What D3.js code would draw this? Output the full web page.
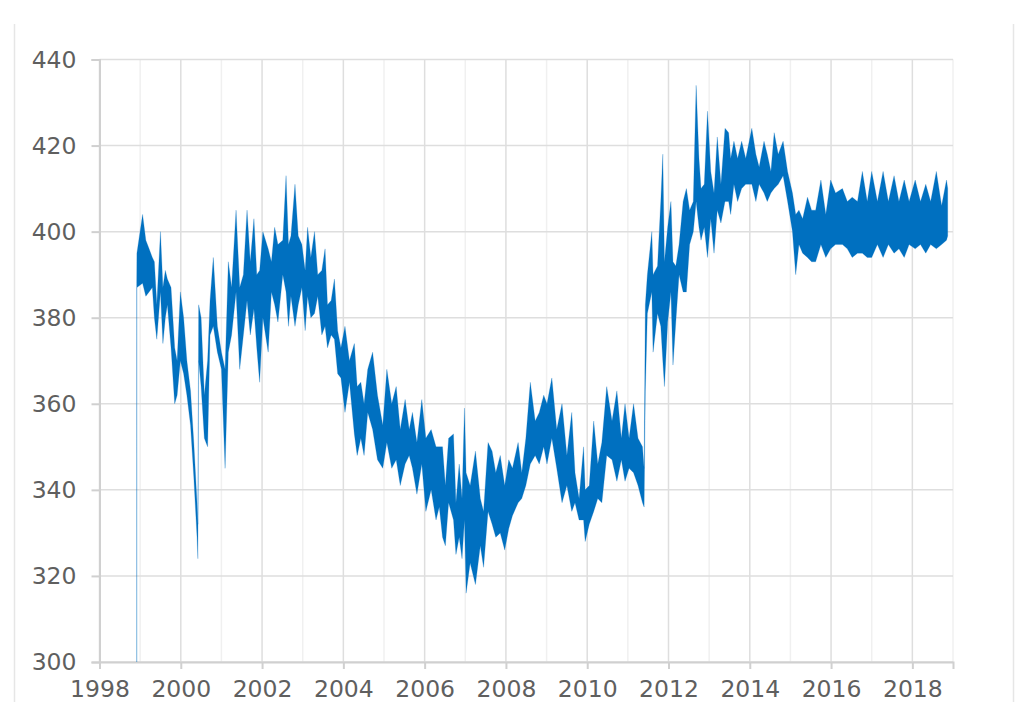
<!DOCTYPE html>
<html>
<head>
<meta charset="utf-8">
<script src="https://cdn.jsdelivr.net/npm/d3@7"></script>
<style>
  html, body { margin: 0; padding: 0; background: #fff; }
  svg { display: block; }
</style>
</head>
<body>
<div id="chart"></div>
<script>
// readings: date in decimal years, low / high of the daily band
var dates = [
  1998.915, 1998.92, 1999.06, 1999.14, 1999.22, 1999.30, 1999.35, 1999.41, 1999.50, 1999.56,
  1999.62, 1999.67, 1999.76, 1999.85, 1999.91, 1999.99, 2000.07, 2000.15, 2000.24, 2000.32,
  2000.40, 2000.42, 2000.44, 2000.50, 2000.58, 2000.66, 2000.72, 2000.80, 2000.90, 2001.00,
  2001.09, 2001.17, 2001.25, 2001.36, 2001.45, 2001.54, 2001.63, 2001.71, 2001.80, 2001.87,
  2001.94, 2002.02, 2002.15, 2002.23, 2002.31, 2002.39, 2002.51, 2002.59, 2002.65, 2002.71,
  2002.81, 2002.89, 2002.98, 2003.06, 2003.12, 2003.20, 2003.29, 2003.37, 2003.47, 2003.55,
  2003.61, 2003.70, 2003.78, 2003.86, 2003.94, 2004.04, 2004.15, 2004.27, 2004.34, 2004.43,
  2004.51, 2004.60, 2004.72, 2004.84, 2004.97, 2005.07, 2005.19, 2005.30, 2005.40, 2005.52,
  2005.62, 2005.70, 2005.81, 2005.93, 2006.03, 2006.16, 2006.28, 2006.36, 2006.44, 2006.51,
  2006.59, 2006.71, 2006.77, 2006.85, 2006.92, 2006.98, 2007.02, 2007.12, 2007.25, 2007.37,
  2007.45, 2007.56, 2007.66, 2007.75, 2007.86, 2007.97, 2008.07, 2008.16, 2008.30, 2008.39,
  2008.49, 2008.60, 2008.72, 2008.82, 2008.93, 2009.01, 2009.13, 2009.25, 2009.38, 2009.50,
  2009.62, 2009.70, 2009.80, 2009.91, 2009.95, 2010.05, 2010.16, 2010.26, 2010.36, 2010.48,
  2010.61, 2010.73, 2010.84, 2010.93, 2011.03, 2011.14, 2011.25, 2011.36, 2011.40, 2011.43,
  2011.48, 2011.59, 2011.62, 2011.73, 2011.81, 2011.86, 2011.90, 2011.98, 2012.06, 2012.11,
  2012.18, 2012.26, 2012.36, 2012.44, 2012.52, 2012.61, 2012.68, 2012.75, 2012.80, 2012.88,
  2012.96, 2013.04, 2013.12, 2013.20, 2013.29, 2013.39, 2013.48, 2013.53, 2013.61, 2013.70,
  2013.80, 2013.90, 2014.05, 2014.15, 2014.23, 2014.35, 2014.43, 2014.52, 2014.60, 2014.70,
  2014.82, 2014.93, 2015.05, 2015.13, 2015.21, 2015.30, 2015.42, 2015.52, 2015.62, 2015.75,
  2015.87, 2015.99, 2016.11, 2016.28, 2016.40, 2016.52, 2016.65, 2016.77, 2016.89, 2017.00,
  2017.14, 2017.28, 2017.41, 2017.55, 2017.67, 2017.80, 2017.92, 2018.07, 2018.20, 2018.33,
  2018.45, 2018.59, 2018.72, 2018.84, 2018.87
];
var lows = [
  0, 387, 388, 385, 386, 387, 380, 375, 386, 374,
  380, 383, 373, 360, 362, 370, 367, 362, 355, 343,
  329, 324, 370, 364, 352, 350, 376, 378, 372, 368,
  345, 372, 376, 386, 368, 376, 384, 376, 382, 373,
  365, 380, 372, 386, 383, 379, 390, 386, 378, 385,
  378, 383, 387, 377, 385, 380, 381, 385, 376, 378,
  373, 376, 375, 367, 366, 358, 365, 353, 348, 352,
  348, 358, 354, 347, 345, 351, 345, 347, 341, 346,
  348, 345, 339, 346, 335, 340, 333, 336, 329, 327,
  337, 333, 325, 329, 324, 333, 316, 323, 318, 327,
  322, 335, 332, 329, 330, 326, 331, 334, 337, 338,
  341, 346, 348, 346, 350, 346, 352, 345, 337, 341,
  335, 337, 333, 333, 328, 332, 335, 338, 337, 348,
  347, 342, 347, 342, 345, 344, 341, 337, 336, 363,
  381, 386, 372, 381, 378, 370, 364, 379, 386, 369,
  379, 390, 386, 386, 397, 400, 407, 401, 398, 401,
  394, 403, 395, 405, 402, 407, 407, 404, 411, 407,
  410, 411, 411, 407, 411, 409, 407, 409, 410, 411,
  413, 407, 400, 390, 397, 395, 394, 393, 393, 397,
  394, 396, 397, 397, 396, 394, 395, 395, 394, 394,
  397, 394, 397, 395, 396, 394, 397, 396, 397, 395,
  397, 396, 397, 398, 399
];
var highs = [
  388, 395, 404, 398, 396, 394, 393, 383, 400, 387,
  391, 389, 387, 373, 370, 386, 380, 370, 363, 351,
  337, 332, 383, 380, 362, 370, 384, 394, 378, 372,
  368, 393, 387, 405, 387, 390, 405, 393, 403, 390,
  391, 400, 396, 393, 401, 397, 398, 413, 397, 399,
  411, 399, 397, 391, 401, 394, 400, 390, 391, 396,
  383, 384, 389, 377, 373, 378, 370, 374, 364, 365,
  360, 368, 372, 362, 355, 368, 360, 364, 354, 361,
  354, 358, 351, 361, 352, 354, 350, 350, 350, 341,
  352, 353, 337, 346, 338, 359, 344, 341, 349, 338,
  335, 351, 349, 344, 348, 341, 347, 345, 351, 344,
  352, 365, 356, 358, 362, 360, 366, 354, 360, 348,
  358, 344, 338, 350, 340, 341, 356, 346, 351, 364,
  356, 363, 352, 360, 352, 360, 352, 350, 345, 383,
  390, 400, 390, 392, 407, 418, 393, 401, 407, 393,
  392, 397, 407, 410, 405, 407, 434, 417, 410, 411,
  428, 414, 409, 422, 411, 424, 423, 417, 421, 417,
  421, 417, 424, 418, 415, 421, 418, 414, 423, 418,
  421, 414, 409, 404, 405, 403, 408, 405, 405, 412,
  404, 412, 409, 410, 407, 408, 407, 414, 407, 414,
  407, 414, 407, 413, 407, 412, 407, 412, 407, 411,
  407, 414, 406, 412, 410
];

var yTicks = [300, 320, 340, 360, 380, 400, 420, 440];
var xLabelYears = [1998, 2000, 2002, 2004, 2006, 2008, 2010, 2012, 2014, 2016, 2018];
var xGridYears = d3.range(1998, 2020);

var width = 1033, height = 702;
var plot = {left: 99.5, right: 953, top: 59.5, bottom: 662};
var lineColor = "#0070c0";
var font = "'DejaVu Sans', Verdana, sans-serif";

var svg = d3.select("#chart").append("svg")
    .attr("width", width)
    .attr("height", height);

// frame lines at both sides
svg.append("line")
    .attr("x1", 14.5).attr("x2", 14.5).attr("y1", 24).attr("y2", height)
    .style("stroke", "#e6e6e6").style("stroke-width", 1.5);
svg.append("line")
    .attr("x1", 1013.5).attr("x2", 1013.5).attr("y1", 24).attr("y2", height)
    .style("stroke", "#e6e6e6").style("stroke-width", 1.5);

var x = d3.scaleLinear().domain([1998, 2019]).range([plot.left, plot.right]);
var y = d3.scaleLinear().domain([300, 440]).range([plot.bottom, plot.top]);

// vertical grid, lighter on odd years
svg.append("g").selectAll("line")
    .data(xGridYears)
    .join("line")
    .attr("x1", d => x(d)).attr("x2", d => x(d))
    .attr("y1", plot.top).attr("y2", plot.bottom)
    .style("stroke", d => d % 2 === 0 ? "#dedede" : "#f0f0f0")
    .style("stroke-width", 1.5);

// horizontal grid
svg.append("g").selectAll("line")
    .data(yTicks)
    .join("line")
    .attr("x1", plot.left).attr("x2", plot.right)
    .attr("y1", d => y(d)).attr("y2", d => y(d))
    .style("stroke", "#dedede")
    .style("stroke-width", 1.5);

var yAxis = svg.append("g")
    .attr("transform", `translate(${plot.left}, 0)`)
    .call(d3.axisLeft(y).tickValues(yTicks).tickSize(8).tickPadding(15));
var xAxis = svg.append("g")
    .attr("transform", `translate(0, ${plot.bottom})`)
    .call(d3.axisBottom(x).tickValues(xLabelYears).tickFormat(d3.format("d")).tickSize(7).tickPadding(11));

[yAxis, xAxis].forEach(function(ax) {
    ax.select(".domain").style("stroke", "#d0d0d0").style("stroke-width", 2);
    ax.selectAll(".tick line").style("stroke", "#d0d0d0").style("stroke-width", 2);
    ax.selectAll("text")
        .style("font-family", font)
        .style("font-size", "23.5px")
        .style("fill", "#5f5f5f");
});

// the series band
var data = dates.map((d, i) => ({date: d, lo: lows[i], hi: highs[i]}));

var defs = svg.append("defs");
defs.append("clipPath").attr("id", "plotclip")
  .append("rect")
    .attr("x", plot.left).attr("y", plot.top)
    .attr("width", plot.right - plot.left)
    .attr("height", plot.bottom - plot.top);
defs.append("filter").attr("id", "soft")
    .attr("x", "-2%").attr("y", "-2%").attr("width", "104%").attr("height", "104%")
  .append("feGaussianBlur").attr("stdDeviation", 0.45);

var area = d3.area()
    .x(d => x(d.date))
    .y0(d => y(d.lo))
    .y1(d => y(d.hi));

svg.append("g")
    .attr("clip-path", "url(#plotclip)")
  .append("path")
    .datum(data)
    .attr("d", area)
    .attr("filter", "url(#soft)")
    .style("fill", lineColor)
    .style("stroke", lineColor)
    .style("stroke-opacity", 0.3)
    .style("stroke-width", 0.8);
</script>
</body>
</html>
